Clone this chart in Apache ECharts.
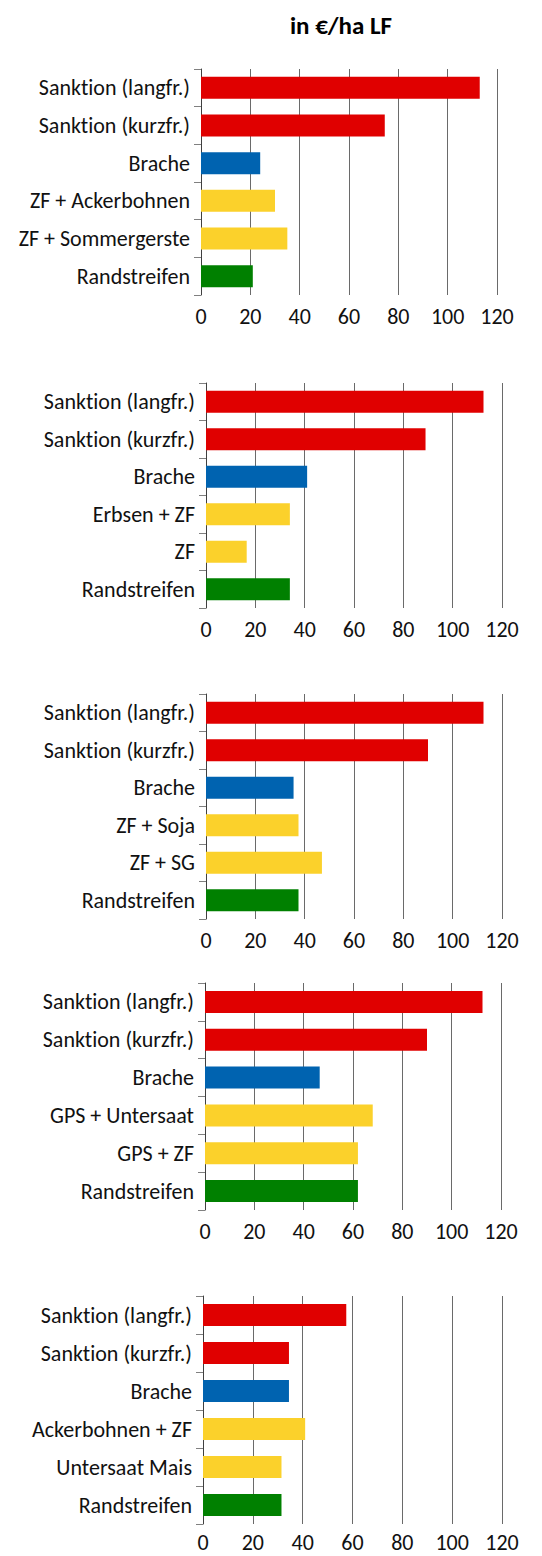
<!DOCTYPE html>
<html>
<head>
<meta charset="utf-8">
<title>in €/ha LF</title>
<script src="https://cdn.jsdelivr.net/npm/echarts@6/dist/echarts.min.js"></script>
<style>
  html, body { margin: 0; padding: 0; background: #fff; }
  #chart { width: 542px; height: 1556px; }
  #chart text { font-variant-ligatures: none; }
</style>
</head>
<body>
<div id="chart"></div>
<script>
// Kategorien je Betriebstyp (von oben nach unten)
const cats1 = ['Sanktion (langfr.)', 'Sanktion (kurzfr.)', 'Brache', 'ZF + Ackerbohnen', 'ZF + Sommergerste', 'Randstreifen']
const cats2 = ['Sanktion (langfr.)', 'Sanktion (kurzfr.)', 'Brache', 'Erbsen + ZF', 'ZF', 'Randstreifen']
const cats3 = ['Sanktion (langfr.)', 'Sanktion (kurzfr.)', 'Brache', 'ZF + Soja', 'ZF + SG', 'Randstreifen']
const cats4 = ['Sanktion (langfr.)', 'Sanktion (kurzfr.)', 'Brache', 'GPS + Untersaat', 'GPS + ZF', 'Randstreifen']
const cats5 = ['Sanktion (langfr.)', 'Sanktion (kurzfr.)', 'Brache', 'Ackerbohnen + ZF', 'Untersaat Mais', 'Randstreifen']

// Werte in €/ha LF
const vals1 = [113, 74.5, 24, 30, 35, 21]
const vals2 = [112.5, 89, 41, 34, 16.5, 34]
const vals3 = [112.5, 90, 35.5, 37.5, 47, 37.5]
const vals4 = [112.5, 90, 46.5, 68, 62, 62]
const vals5 = [57.5, 34.5, 34.5, 41, 31.5, 31.5]

const xTicks = [0, 20, 40, 60, 80, 100, 120]

const cats = [cats1, cats2, cats3, cats4, cats5]
const vals = [vals1, vals2, vals3, vals4, vals5]

// Farben je Zeile: Sanktionen rot, Brache blau, Kulturen gelb, Randstreifen grün
const rowColors = ['#e00000', '#e00000', '#0063b0', '#fbd12b', '#fbd12b', '#008000']
const font = 'Carlito, Lato, sans-serif'

// Lage der Teilgrafiken
const grids = [
  { left: 201, top: 69, width: 296, height: 226 },
  { left: 206, top: 383, width: 296, height: 225 },
  { left: 206, top: 694, width: 296, height: 225 },
  { left: 205, top: 983, width: 296, height: 227 },
  { left: 203, top: 1296, width: 299, height: 228 }
]
// Abstand der x-Beschriftung (unterste knapp, damit sie im Bild bleibt)
const xLabelMargin = [10, 10, 10, 10, 7]

// svg, damit die Ligaturen (ti) per CSS abgeschaltet werden koennen
const myChart = echarts.init(document.getElementById('chart'), null, { renderer: 'svg' })
const option = {
  animation: false,
  backgroundColor: '#fff',
  title: {
    text: 'in €/ha LF',
    left: 336,
    top: 8,
    textAlign: 'center',
    textStyle: { fontFamily: font, fontSize: 25, fontWeight: 'bold', color: '#000' }
  },
  grid: grids,
  xAxis: grids.map((g, i) => ({
    type: 'value',
    gridIndex: i,
    min: xTicks[0],
    max: xTicks[xTicks.length - 1],
    interval: 20,
    axisLine: { show: false },
    axisTick: { show: false },
    axisLabel: { fontFamily: font, fontSize: 22, color: '#111', margin: xLabelMargin[i] },
    splitLine: { show: true, lineStyle: { color: '#6a6a6a', width: 1 } }
  })),
  yAxis: grids.map((g, i) => ({
    type: 'category',
    gridIndex: i,
    inverse: true,
    data: cats[i],
    axisLine: { show: true, lineStyle: { color: '#404040', width: 1 } },
    axisTick: { show: true, length: 7, lineStyle: { color: '#808080' } },
    axisLabel: { fontFamily: font, fontSize: 22, color: '#111', margin: 11 }
  })),
  series: vals.map((v, i) => ({
    type: 'bar',
    xAxisIndex: i,
    yAxisIndex: i,
    barWidth: 22,
    data: v,
    itemStyle: { color: (p) => rowColors[p.dataIndex] }
  }))
}
myChart.setOption(option)
</script>
</body>
</html>
